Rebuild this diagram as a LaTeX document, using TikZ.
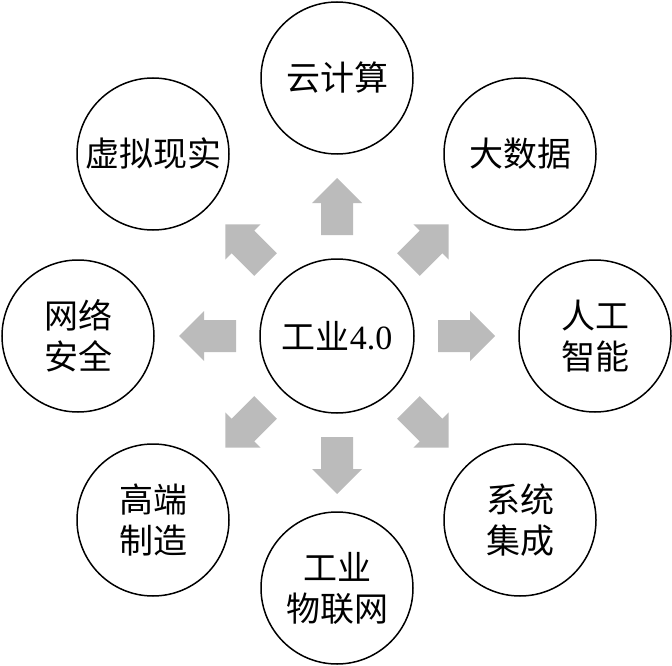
\documentclass[tikz,border=0pt]{standalone}
\usepackage{fontspec}
\setmainfont{Liberation Serif}
\newfontfamily\cjk{Noto Sans CJK SC}
\definecolor{arrowgray}{RGB}{187,187,187}
\tikzset{
  bubble/.style={circle, draw=black, line width=1.5pt, minimum size=152pt,
    inner sep=0pt, align=center, font=\cjk\fontsize{34}{41}\selectfont},
  blockarrow/.style={fill=arrowgray, draw=none}
}
\begin{document}
\begin{tikzpicture}[x=1pt,y=-1pt]
\useasboundingbox (0,0) rectangle (672,666);
\node[bubble, minimum size=154pt] (core) at (337,336) {工业{\rmfamily 4.0}};
\node[bubble] (cloud) at (337,78) {云计算};
\node[bubble] (bigdata) at (520,154) {大数据};
\node[bubble] (ai) at (595,336) {人工\\智能};
\node[bubble] (sys) at (520,520) {系统\\集成};
\node[bubble] (iot) at (337,588) {工业\\物联网};
\node[bubble] (mfg) at (153,520) {高端\\制造};
\node[bubble] (sec) at (78,336) {网络\\安全};
\node[bubble] (vr) at (153,154) {虚拟现实};
\foreach \a in {0,45,...,315}{
  \fill[blockarrow, shift={(core.center)}, rotate=\a]
    (101pt,16pt) -- (133pt,16pt) -- (133pt,25pt) -- (158pt,0pt)
    -- (133pt,-25pt) -- (133pt,-16pt) -- (101pt,-16pt) -- cycle;
}
\end{tikzpicture}
\end{document}
